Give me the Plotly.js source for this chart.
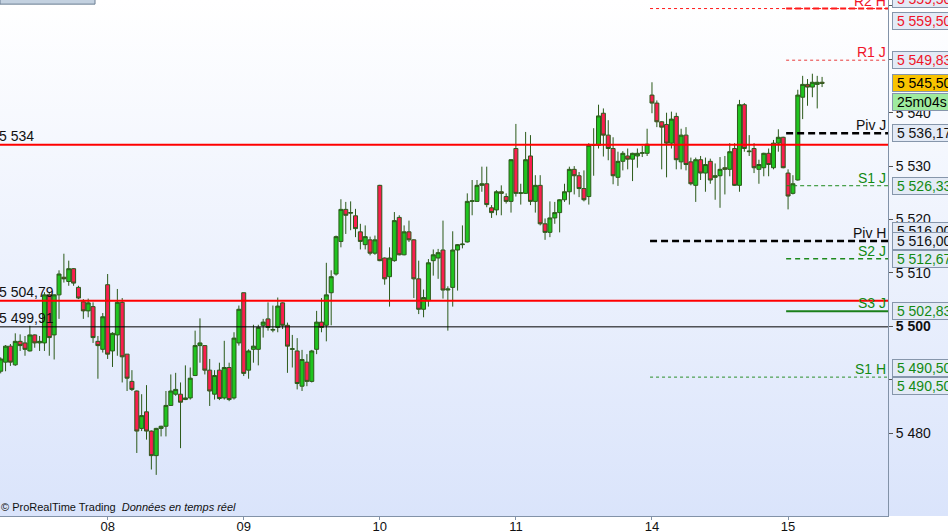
<!DOCTYPE html>
<html>
<head>
<meta charset="utf-8">
<script src="https://cdn.plot.ly/plotly-3.0.1.min.js"></script>
<style>
  html, body { margin: 0; padding: 0; background: #ffffff; }
  #chart {
    width: 948px; height: 532px;
    background: linear-gradient(to bottom, #ffffff 0px, #dae4fb 516px, #ffffff 516px, #ffffff 532px);
  }
</style>
</head>
<body>
<div id="chart"></div>
<script>
// ---- 30-minute bars, DAX-like index (07 partial .. 15) ----
const openP = [
5491.6,5493.3,5496.3,5492.8,5497.2,5496.9,5495.4,5498.4,5496.9,5496.9,
5505.9,5498.4,5505.9,5509.2,5508.4,5510.8,5507.3,5504.6,5502.9,5503.7,
5497.2,5495.7,5507.8,5495.4,5498.4,5504.5,5494.8,5489.7,5487.9,5480.9,
5484.0,5480.4,5475.8,5480.9,5481.3,5485.2,5487.3,5487.3,5486.3,5486.6,
5490.8,5496.4,5496.4,5491.8,5487.3,5491.8,5486.6,5492.3,5486.6,5496.9,
5506.3,5491.8,5495.7,5495.7,5500.2,5501.4,5499.3,5499.8,5504.4,5500.2,
5495.7,5495.4,5488.8,5493.3,5489.7,5495.7,5500.8,5500.2,5506.3,5509.8,
5515.9,5521.9,5521.2,5520.7,5517.7,5515.3,5516.2,5513.7,5526.4,5512.8,
5509.3,5512.3,5520.4,5513.4,5517.7,5516.2,5508.9,5503.2,5504.8,5512.3,
5512.8,5514.3,5506.8,5507.3,5514.3,5515.3,5515.8,5523.4,5523.4,5526.4,
5526.7,5522.2,5521.8,5525.2,5524.3,5523.4,5533.3,5524.9,5524.9,5531.9,
5523.4,5526.4,5519.2,5517.6,5520.3,5521.3,5523.7,5525.2,5529.4,5528.2,
5525.8,5524.3,5533.9,5533.9,5539.9,5535.8,5533.3,5527.9,5530.9,5531.9,
5531.3,5531.9,5532.4,5532.4,5543.3,5541.8,5538.3,5537.8,5534.3,5539.3,
5530.8,5535.8,5530.8,5526.4,5531.2,5528.7,5530.9,5527.9,5528.2,5529.7,
5529.4,5533.3,5526.4,5541.5,5532.7,5533.3,5529.4,5529.7,5532.4,5529.7,
5534.3,5535.4,5528.7,5524.9,5527.4,5542.9,5545.3,5544.8,5545.3,5545.7
];
const highP = [
5494.2,5496.5,5496.7,5498.7,5498.5,5498.2,5500.1,5498.5,5498.2,5506.4,
5506.4,5506.0,5510.5,5513.6,5512.3,5510.9,5507.6,5505.1,5505.2,5504.5,
5498.2,5502.5,5509.8,5498.9,5507.0,5505.3,5494.8,5491.8,5488.0,5487.3,
5489.0,5480.5,5481.0,5481.4,5487.9,5491.0,5491.3,5489.5,5492.7,5492.3,
5499.2,5501.5,5496.4,5493.9,5491.8,5493.2,5497.3,5493.2,5498.9,5503.9,
5506.3,5495.7,5500.3,5500.3,5501.4,5504.5,5503.9,5505.4,5504.5,5500.7,
5498.4,5497.8,5495.6,5494.8,5495.6,5502.9,5505.3,5511.9,5510.5,5517.0,
5523.8,5523.3,5523.4,5522.0,5519.2,5518.9,5516.8,5517.0,5526.5,5512.9,
5514.8,5521.4,5520.8,5518.9,5519.8,5516.3,5512.3,5506.9,5512.6,5514.4,
5514.5,5519.8,5507.5,5517.8,5515.4,5518.9,5524.9,5527.4,5527.4,5529.9,
5529.9,5522.7,5525.5,5526.4,5524.9,5531.3,5537.9,5526.7,5536.4,5535.8,
5528.3,5528.3,5520.2,5523.4,5523.3,5523.8,5526.7,5529.9,5530.0,5528.9,
5529.2,5534.3,5537.1,5541.5,5540.8,5538.6,5535.4,5532.7,5532.8,5533.3,
5532.5,5533.3,5533.8,5537.0,5545.7,5542.3,5538.4,5540.0,5540.2,5540.0,
5537.0,5537.3,5531.6,5531.6,5531.9,5531.6,5531.4,5530.5,5531.7,5531.9,
5534.3,5534.3,5542.4,5541.8,5535.8,5534.3,5531.2,5532.5,5533.3,5534.9,
5536.9,5535.5,5529.4,5528.3,5544.3,5546.9,5546.3,5547.3,5546.9,5546.7
];
const lowP = [
5491.2,5491.6,5492.6,5492.6,5495.4,5494.5,5495.3,5496.0,5495.4,5495.4,
5494.5,5493.8,5501.4,5508.2,5507.6,5507.6,5505.1,5501.4,5501.7,5496.9,
5490.2,5495.1,5493.9,5492.4,5494.5,5489.5,5487.9,5487.9,5476.3,5480.4,
5478.8,5473.2,5472.2,5479.4,5479.4,5485.1,5487.0,5477.2,5486.2,5486.3,
5490.7,5493.2,5491.0,5485.1,5486.3,5486.2,5486.3,5486.0,5486.3,5496.4,
5490.7,5490.2,5493.2,5492.7,5497.9,5499.2,5498.9,5498.9,5499.5,5491.3,
5492.3,5488.2,5487.9,5488.8,5489.5,5494.8,5498.9,5497.2,5500.2,5509.5,
5514.8,5517.3,5518.0,5516.7,5514.4,5514.4,5513.3,5513.4,5512.2,5507.8,
5503.7,5512.1,5513.3,5513.3,5515.8,5505.3,5502.3,5501.7,5503.7,5509.5,
5508.9,5505.2,5499.2,5503.7,5506.7,5514.6,5515.7,5520.8,5523.3,5525.2,
5522.3,5520.3,5520.8,5520.8,5523.0,5521.3,5524.3,5522.8,5524.8,5522.7,
5521.3,5518.9,5516.2,5516.7,5519.2,5517.6,5523.3,5522.8,5524.7,5524.2,
5523.4,5522.8,5528.2,5533.3,5531.8,5531.1,5526.6,5526.3,5529.2,5529.4,
5527.2,5529.7,5531.7,5531.9,5539.9,5537.3,5529.4,5527.9,5533.3,5529.4,
5529.4,5529.2,5526.4,5523.3,5527.4,5525.2,5526.7,5523.7,5522.2,5524.7,
5528.1,5526.3,5525.2,5532.7,5531.9,5528.7,5526.7,5528.1,5528.1,5529.4,
5532.7,5529.6,5521.9,5524.7,5527.3,5538.8,5541.3,5542.9,5540.8,5544.8
];
const closeP = [
5493.9,5496.3,5493.3,5497.2,5496.4,5495.7,5498.4,5496.9,5497.2,5505.9,
5497.9,5505.9,5509.8,5508.9,5510.8,5508.1,5505.3,5502.9,5504.4,5497.9,
5496.4,5501.8,5494.8,5498.7,5504.5,5494.3,5490.3,5488.2,5480.4,5483.3,
5480.4,5475.8,5480.9,5481.3,5485.2,5487.9,5488.2,5485.8,5486.6,5490.3,
5496.4,5496.9,5491.8,5487.9,5490.8,5486.5,5492.3,5486.3,5497.8,5503.2,
5491.2,5495.4,5496.3,5499.8,5500.8,5499.8,5499.4,5503.8,5500.2,5496.3,
5495.8,5489.3,5493.8,5489.7,5495.4,5500.8,5499.8,5505.9,5509.3,5516.8,
5521.9,5520.8,5521.3,5518.3,5515.9,5516.8,5513.7,5516.2,5512.3,5508.9,
5512.8,5519.8,5513.4,5517.7,5516.2,5508.9,5503.2,5505.4,5511.9,5513.4,
5513.8,5506.8,5507.0,5514.3,5515.3,5515.4,5523.4,5523.5,5526.4,5526.7,
5522.8,5521.3,5525.2,5524.9,5523.4,5531.2,5524.9,5525.0,5531.2,5523.4,
5526.4,5519.2,5517.6,5520.3,5521.3,5523.7,5525.2,5529.4,5528.2,5525.8,
5523.7,5533.9,5534.0,5539.4,5535.8,5533.3,5528.2,5530.9,5532.4,5531.3,
5532.4,5532.4,5532.5,5534.1,5541.8,5538.3,5537.3,5534.3,5538.8,5531.2,
5535.8,5530.3,5526.7,5531.2,5528.7,5530.3,5527.4,5528.2,5529.4,5529.4,
5532.7,5526.4,5541.5,5533.3,5532.8,5529.7,5530.3,5532.4,5530.3,5534.3,
5535.4,5529.7,5524.4,5526.7,5543.3,5545.3,5544.8,5545.7,5545.7,5545.5
];

// day separators (index of first bar of each day) and their labels
const dayTickIndex = [22, 50, 78, 106, 134, 162];
const dayLabels = ['08', '09', '10', '11', '14', '15'];

// price axis ticks
const priceTicks = [5480, 5490, 5500, 5510, 5520, 5530, 5540, 5550, 5560];
const priceTickText = ['5 480', '5 490', '<b>5 500</b>', '5 510', '5 520', '5 530', '5 540', '5 550', '5 560'];

// horizontal reference lines drawn over the whole width
const refValues = [5534, 5504.79, 5499.91];
const refTexts  = ['5 534', '5 504,79', '5 499,91'];
const refColors = ['#ff0000', '#ff0000', '#000000'];
const refWidths = [2, 2, 1];

// pivot levels (weekly H start on day 14, daily J start on day 15)
const levelNames  = ['R2 H', 'R2 J', 'R1 J', 'Piv J', 'S1 J', 'Piv H', 'S2 J', 'S3 J', 'S1 H'];
const levelValues = [5559.50, 5559.50, 5549.83, 5536.17, 5526.33, 5516.00, 5512.67, 5502.83, 5490.50];
const levelStart  = [134, 162, 162, 162, 162, 134, 162, 162, 134];
const levelShowName = [true, false, true, true, true, true, true, true, true];

// value boxes on the price scale
const boxTexts  = ['5 559,50', '5 559,50', '5 549,83', '5 536,17', '5 526,33', '5 516,00', '5 516,00', '5 512,67', '5 502,83', '5 490,50', '5 490,50'];
const boxValues = [5559.50, 5559.50, 5549.83, 5536.17, 5526.33, 5516.00, 5516.00, 5512.67, 5502.83, 5490.50, 5490.50];
const boxKinds  = ['r', 'r', 'r', 'k', 'g', 'k', 'k', 'g', 'g', 'g', 'g'];
const boxShift  = [9.5, -12, 0, 0, 0, 10, 0, 0, 0, 9, -9];

const lastPrice = 5545.50;
const lastPriceText = '5 545,50';
const timerText = '25m04s';

// ---- styling ----
const FONT = '"Liberation Sans", Arial, sans-serif';
const kindColor = { r: '#f01428', k: '#111111', g: '#138a13' };
const levelKind = ['r', 'r', 'r', 'k', 'g', 'k', 'g', 'g', 'g'];
const levelStyle = [
  { width: 1, dash: '3px,3px' },  // R2 H
  { width: 2, dash: '6px,3px' },  // R2 J
  { width: 1, dash: '3px,3px' },  // R1 J
  { width: 2.5, dash: '7px,4px' },// Piv J
  { width: 1, dash: '4px,3px' },  // S1 J
  { width: 2.5, dash: '7px,4px' },// Piv H
  { width: 1.5, dash: '5px,4px' },// S2 J
  { width: 2, dash: 'solid' },    // S3 J
  { width: 1, dash: '3px,3px' }   // S1 H
];
const levelColor = ['#ff1a1a', '#ff1a1a', '#e83a3a', '#000000', '#1d8a1d', '#000000', '#1d8a1d', '#1a7f1a', '#2a8f2a'];

const xIdx = openP.map((_, i) => i);

const candle = {
  type: 'candlestick',
  x: xIdx, open: openP, high: highP, low: lowP, close: closeP,
  increasing: { line: { color: '#2c5a1a', width: 1 }, fillcolor: '#1fc41f' },
  decreasing: { line: { color: '#2c5a1a', width: 1 }, fillcolor: '#fa1e4f' },
  whiskerwidth: 0,
  hoverinfo: 'skip',
  showlegend: false
};

const shapes = [];
const annotations = [];

// top-left toolbar remnant
shapes.push({ type: 'rect', xref: 'paper', yref: 'paper', x0: 0, x1: 0.107, y0: 0.992, y1: 1.02,
  fillcolor: '#c3d1e0', line: { color: '#6c7f93', width: 1 }, layer: 'above' });

refValues.forEach((v, i) => {
  shapes.push({ type: 'line', xref: 'paper', yref: 'y', x0: 0, x1: 1, y0: v, y1: v,
    line: { color: refColors[i], width: refWidths[i] }, layer: 'above' });
  annotations.push({ xref: 'paper', yref: 'y', x: 0, y: v, xanchor: 'left', yanchor: 'bottom',
    xshift: -3, yshift: -1, text: refTexts[i], showarrow: false,
    font: { family: FONT, size: 14, color: '#111111' } });
});

levelValues.forEach((v, i) => {
  shapes.push({ type: 'line', xref: 'x', yref: 'y', x0: levelStart[i] - 0.4, x1: 400, y0: v, y1: v,
    line: { color: levelColor[i], width: levelStyle[i].width, dash: levelStyle[i].dash }, layer: 'above' });
  if (levelShowName[i]) {
    annotations.push({ xref: 'paper', yref: 'y', x: 1, y: v, xanchor: 'right', yanchor: 'bottom',
      xshift: 0, yshift: -2, text: levelNames[i], showarrow: false,
      font: { family: FONT, size: 14, color: kindColor[levelKind[i]] } });
  }
});

const boxStyle = (txt, v, shift, color, bg) => ({
  xref: 'paper', yref: 'y', x: 1, y: v, xanchor: 'left', yanchor: 'middle',
  xshift: 4, yshift: shift, text: txt, showarrow: false, align: 'left',
  bgcolor: bg, bordercolor: '#8696ab', borderwidth: 1, borderpad: 0,
  font: { family: FONT, size: 14, color: color }
});
boxTexts.forEach((t, i) => {
  annotations.push(boxStyle(' ' + t + '    ', boxValues[i], boxShift[i], kindColor[boxKinds[i]], '#e3eaf6'));
});
annotations.push(boxStyle(' ' + lastPriceText + '    ', lastPrice, 0, '#000000', '#f9c300'));
annotations.push(boxStyle(' ' + timerText + '      ', lastPrice, -19, '#000000', '#9fea9f'));

annotations.push({ xref: 'paper', yref: 'paper', x: 0, y: 0, xanchor: 'left', yanchor: 'bottom',
  xshift: -1, yshift: 1, showarrow: false,
  text: '© ProRealTime Trading  <i>Données en temps réel</i>',
  font: { family: '"Liberation Sans Narrow", "Liberation Sans", Arial, sans-serif', size: 11, color: '#111111' } });

const layout = {
  width: 948, height: 532,
  margin: { l: 0, r: 60, t: 0, b: 16, pad: 0 },
  paper_bgcolor: 'rgba(0,0,0,0)',
  plot_bgcolor: 'rgba(0,0,0,0)',
  showlegend: false,
  hovermode: false,
  boxgap: 0,
  boxgroupgap: 0.18,
  xaxis: {
    range: [-0.144, 182.56], fixedrange: true,
    rangeslider: { visible: false },
    showgrid: false, zeroline: false,
    showline: true, linecolor: '#8292a8', linewidth: 1,
    ticks: 'outside', ticklen: 3, tickcolor: '#8292a8',
    tickvals: dayTickIndex, ticktext: dayLabels,
    tickfont: { family: FONT, size: 13, color: '#111111' },
    ticklabelstandoff: -5
  },
  yaxis: {
    side: 'right', range: [5464.5, 5561.1], fixedrange: true,
    showgrid: false, zeroline: false,
    showline: true, linecolor: '#8292a8', linewidth: 1,
    ticks: 'outside', ticklen: 4, tickcolor: '#555555',
    tickvals: priceTicks, ticktext: priceTickText,
    tickfont: { family: FONT, size: 14, color: '#111111' }
  },
  shapes: shapes,
  annotations: annotations
};

Plotly.newPlot('chart', [candle], layout, { displayModeBar: false, staticPlot: true });
</script>
</body>
</html>
